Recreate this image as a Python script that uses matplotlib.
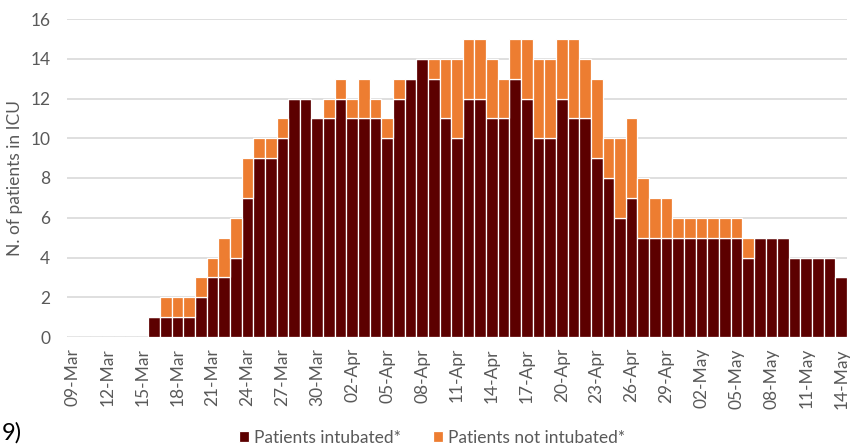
import matplotlib.pyplot as plt
import numpy as np
import datetime as dt

plt.rcParams['font.family'] = ['Lato', 'DejaVu Sans']

# daily values 09-Mar .. 14-May
start = dt.date(2020, 3, 9)
n_days = 67
dates = [start + dt.timedelta(days=i) for i in range(n_days)]
date_labels = [d.strftime('%d-%b') for d in dates]

intubated = [0, 0, 0, 0, 0, 0, 0, 1, 1, 1,
             1, 2, 3, 3, 4, 7, 9, 9, 10, 12,
             12, 11, 11, 12, 11, 11, 11, 10, 12, 13,
             14, 13, 11, 10, 12, 12, 11, 11, 13, 12,
             10, 10, 12, 11, 11, 9, 8, 6, 7, 5,
             5, 5, 5, 5, 5, 5, 5, 5, 4, 5,
             5, 5, 4, 4, 4, 4, 3]
not_intubated = [0, 0, 0, 0, 0, 0, 0, 0, 1, 1,
                 1, 1, 1, 2, 2, 2, 1, 1, 1, 0,
                 0, 0, 1, 1, 1, 2, 1, 1, 1, 0,
                 0, 1, 3, 4, 3, 3, 3, 2, 2, 3,
                 4, 4, 3, 4, 3, 4, 2, 4, 4, 3,
                 2, 2, 1, 1, 1, 1, 1, 1, 1, 0,
                 0, 0, 0, 0, 0, 0, 0]

dark = '#5c0000'
orange = '#ed7d31'
grey = '#595959'

fig = plt.figure(figsize=(8.52, 4.46), dpi=100)
ax = fig.add_axes([67 / 852, 1 - 337 / 446, 780 / 852, 318 / 446])

x = np.arange(n_days)
ax.bar(x, intubated, width=1.0, color=dark, edgecolor='white', linewidth=0.9,
       label='Patients intubated*', zorder=3)
ax.bar(x, not_intubated, width=1.0, bottom=intubated, color=orange,
       edgecolor='white', linewidth=0.9, label='Patients not intubated*', zorder=3)

ax.set_xlim(-0.5, n_days - 0.5)
ax.set_ylim(0, 16)
ax.set_yticks(range(0, 17, 2))
ax.set_xticks(x[::3])
ax.set_xticklabels(date_labels[::3], rotation=90)
ax.tick_params(axis='both', length=0, colors=grey, labelsize=12.5)
ax.tick_params(axis='y', pad=12)
ax.tick_params(axis='x', pad=8)
ax.grid(axis='y', color='#d9d9d9', linewidth=1.2, zorder=0)
for s in ax.spines.values():
    s.set_visible(False)
ax.set_ylabel('N. of patients in ICU', color=grey, fontsize=12.5, labelpad=5)

ax.legend(loc='center', bbox_to_anchor=(432 / 852, 1 - 438 / 446),
          bbox_transform=fig.transFigure, ncol=2, frameon=False,
          fontsize=12.5, handlelength=0.6, handleheight=0.6, handletextpad=0.3,
          columnspacing=1.8, labelcolor=grey)

# fragment of the caption below the chart
fig.text(0.002, 0.005, '9)', fontsize=17, color='black', ha='left', va='bottom')

fig.savefig('out.png', dpi=100)
